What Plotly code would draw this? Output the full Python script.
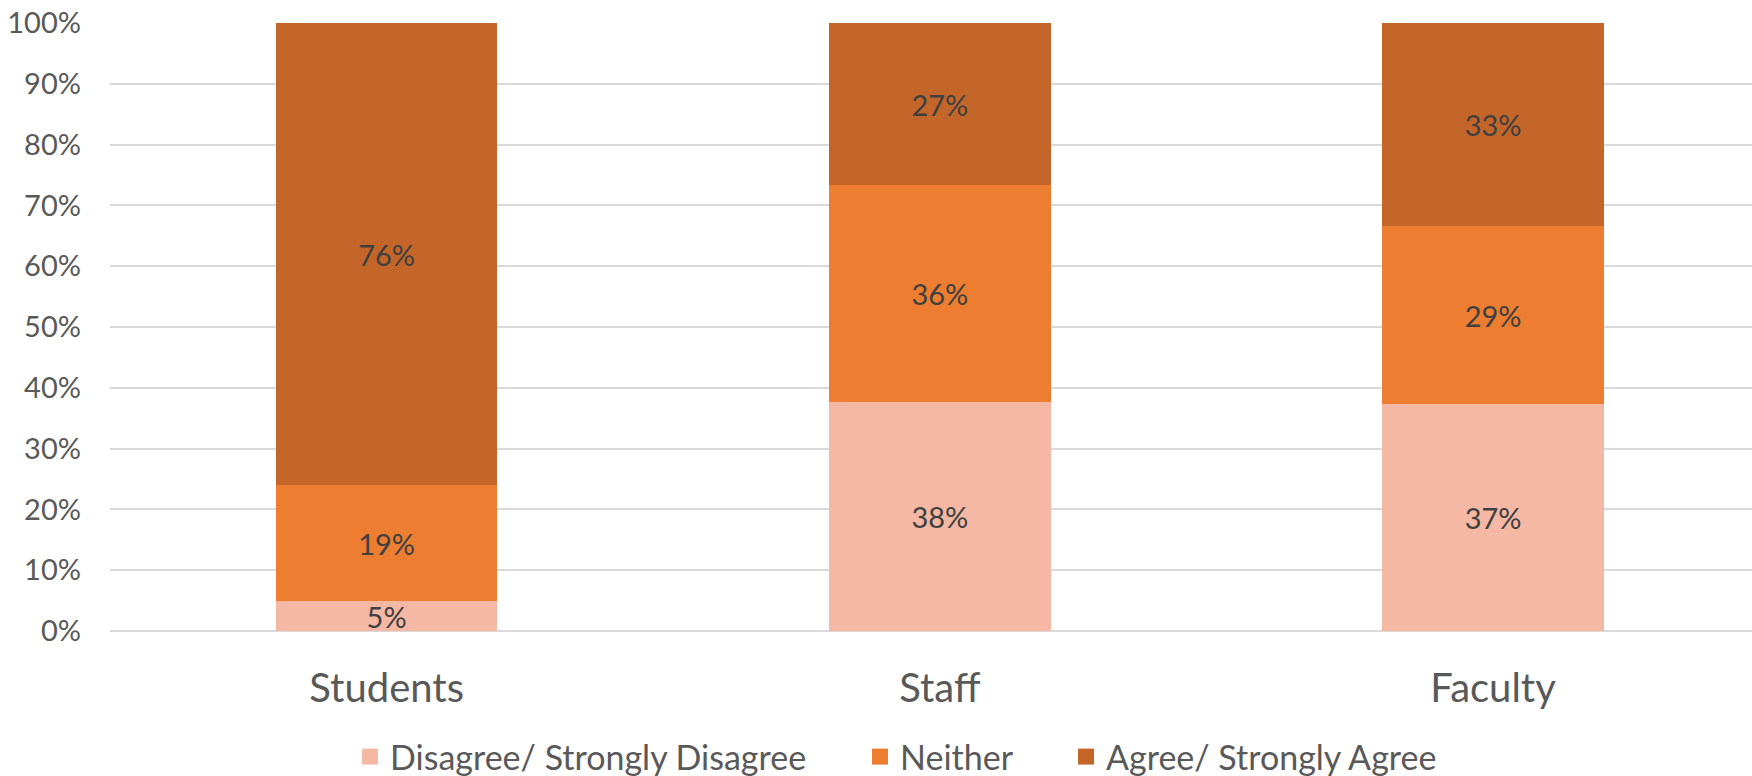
import plotly.graph_objects as go

# Survey response shares by group
groups = ["Students", "Staff", "Faculty"]
disagree = [0.049, 0.376, 0.373]
neither = [0.191, 0.357, 0.293]
agree = [0.760, 0.267, 0.334]

series = [
    ("Disagree/ Strongly Disagree", disagree, "#F4B8A5"),
    ("Neither", neither, "#ED7D31"),
    ("Agree/ Strongly Agree", agree, "#C4662A"),
]

FONT = "Lato, Carlito, Calibri, sans-serif"
W, H = 1752, 776

fig = go.Figure()
for name, vals, color in series:
    fig.add_trace(go.Bar(
        x=groups, y=vals, name=name,
        marker=dict(color=color, line=dict(width=0)),
        width=0.4,
        texttemplate="%{y:.0%}",
        textposition="inside",
        insidetextanchor="middle",
        textangle=0,
        constraintext="none",
        insidetextfont=dict(family=FONT, size=29, color="#404040"),
        showlegend=False,
        hoverinfo="skip",
    ))

# One legend per series, each with a larger square swatch
legend_x = [350, 860, 1066]
legend_names = ["legend", "legend2", "legend3"]
legend_layout = {}
for (name, vals, color), lx, lg in zip(series, legend_x, legend_names):
    fig.add_trace(go.Scatter(
        x=[None], y=[None], mode="markers", name=name,
        marker=dict(symbol="square", size=20, color=color),
        showlegend=True, legend=lg,
    ))
    legend_layout[lg] = dict(
        orientation="h", xref="container", yref="container",
        x=lx / W, xanchor="left", y=(H - 757) / H, yanchor="middle",
        font=dict(family=FONT, size=34, color="#595959"),
        itemwidth=30, bgcolor="rgba(0,0,0,0)", borderwidth=0,
    )

fig.update_layout(
    barmode="stack",
    width=W, height=H,
    margin=dict(l=110, r=0, t=23, b=145, autoexpand=False),
    paper_bgcolor="white", plot_bgcolor="white",
    font=dict(family=FONT, color="#595959"),
    xaxis=dict(
        range=[-0.5, 2.468],
        showgrid=False, zeroline=False, showline=False,
        ticks="", ticklabelstandoff=30,
        tickfont=dict(family=FONT, size=40, color="#595959"),
    ),
    yaxis=dict(
        range=[0, 1], tickformat=".0%", dtick=0.1,
        showgrid=True, gridcolor="#D9D9D9", gridwidth=2,
        zeroline=True, zerolinecolor="#D9D9D9", zerolinewidth=2,
        showline=False, ticks="", ticklabelstandoff=28,
        tickfont=dict(family=FONT, size=29, color="#595959"),
    ),
    **legend_layout,
)

fig.write_html("out.html")
